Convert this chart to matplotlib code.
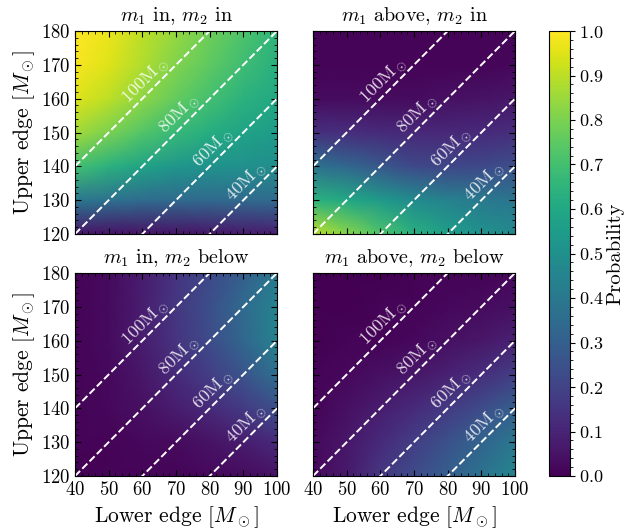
import numpy as np
import matplotlib
matplotlib.use("Agg")
import matplotlib.pyplot as plt
from matplotlib.ticker import AutoMinorLocator, MultipleLocator

plt.rcParams.update({
    "font.family": "serif",
    "font.serif": ["cmr10", "DejaVu Serif"],
    "mathtext.fontset": "cm",
    "axes.formatter.use_mathtext": True,
    "axes.unicode_minus": False,
})

# Grid of gap edges (solar masses)
lower_edge = [40, 50, 60, 70, 80, 90, 100]
upper_edge = [120, 130, 140, 150, 160, 170, 180]

# Probabilities, rows follow upper_edge (120 -> 180), columns follow lower_edge
p_in_in = [
    [0.06, 0.05, 0.05, 0.05, 0.06, 0.07, 0.08],
    [0.40, 0.37, 0.35, 0.34, 0.34, 0.34, 0.34],
    [0.70, 0.64, 0.58, 0.53, 0.51, 0.50, 0.49],
    [0.86, 0.80, 0.73, 0.67, 0.62, 0.58, 0.55],
    [0.95, 0.90, 0.83, 0.76, 0.70, 0.64, 0.60],
    [0.99, 0.95, 0.88, 0.81, 0.75, 0.69, 0.63],
    [1.00, 0.97, 0.90, 0.84, 0.78, 0.72, 0.65],
]
p_above_in = [
    [0.90, 0.82, 0.72, 0.63, 0.56, 0.51, 0.47],
    [0.64, 0.60, 0.54, 0.48, 0.44, 0.41, 0.39],
    [0.38, 0.33, 0.27, 0.22, 0.21, 0.22, 0.24],
    [0.14, 0.13, 0.12, 0.11, 0.11, 0.12, 0.13],
    [0.03, 0.03, 0.03, 0.03, 0.04, 0.05, 0.06],
    [0.01, 0.01, 0.01, 0.01, 0.01, 0.01, 0.02],
    [0.01, 0.01, 0.01, 0.01, 0.01, 0.01, 0.01],
]
p_in_below = [
    [0.00, 0.01, 0.01, 0.01, 0.02, 0.03, 0.05],
    [0.01, 0.01, 0.02, 0.03, 0.05, 0.08, 0.12],
    [0.01, 0.02, 0.04, 0.08, 0.12, 0.17, 0.24],
    [0.01, 0.02, 0.06, 0.12, 0.18, 0.26, 0.36],
    [0.01, 0.03, 0.08, 0.15, 0.23, 0.33, 0.44],
    [0.01, 0.03, 0.08, 0.16, 0.24, 0.34, 0.45],
    [0.01, 0.03, 0.08, 0.15, 0.22, 0.30, 0.40],
]
p_above_below = [
    [0.02, 0.07, 0.16, 0.23, 0.30, 0.38, 0.46],
    [0.02, 0.06, 0.12, 0.18, 0.25, 0.32, 0.40],
    [0.01, 0.04, 0.08, 0.12, 0.17, 0.23, 0.30],
    [0.01, 0.02, 0.04, 0.06, 0.09, 0.13, 0.18],
    [0.00, 0.01, 0.01, 0.02, 0.04, 0.06, 0.09],
    [0.00, 0.00, 0.01, 0.01, 0.02, 0.03, 0.04],
    [0.00, 0.00, 0.00, 0.01, 0.01, 0.01, 0.02],
]

titles = [r"$m_1$ in, $m_2$ in", r"$m_1$ above, $m_2$ in",
          r"$m_1$ in, $m_2$ below", r"$m_1$ above, $m_2$ below"]
panels = [p_in_in, p_above_in, p_in_below, p_above_below]

# Gap widths drawn as constant-width diagonals, with label anchor positions
gap_widths = [100, 80, 60, 40]
label_x = [63, 73, 83, 93]

W, H = 627, 529
fig = plt.figure(figsize=(W / 100, H / 100), dpi=100)

lefts = [75, 313]
tops = [31, 273]
size_w, size_h = 202, 203

X, Y = np.meshgrid(lower_edge, upper_edge)
for i, (data, title) in enumerate(zip(panels, titles)):
    r, c = divmod(i, 2)
    ax = fig.add_axes([lefts[c] / W, 1 - (tops[r] + size_h) / H, size_w / W, size_h / H])
    mesh = ax.pcolormesh(X, Y, np.array(data), shading="gouraud",
                         cmap="viridis", vmin=0, vmax=1)
    xs = np.array([lower_edge[0], lower_edge[-1]])
    for w, lx in zip(gap_widths, label_x):
        ax.plot(xs, xs + w, ls="--", color="white", lw=1.4)
        ax.text(lx, lx + w + 0.4, rf"${w}\mathrm{{M}}_\odot$", rotation=45,
                rotation_mode="anchor", ha="center", va="bottom",
                color="white", alpha=0.85, fontsize=13)
    ax.set_xlim(lower_edge[0], lower_edge[-1])
    ax.set_ylim(upper_edge[0], upper_edge[-1])
    ax.xaxis.set_major_locator(MultipleLocator(10))
    ax.yaxis.set_major_locator(MultipleLocator(10))
    ax.xaxis.set_minor_locator(AutoMinorLocator())
    ax.yaxis.set_minor_locator(AutoMinorLocator())
    ax.tick_params(which="both", direction="in", top=True, right=True, labelsize=13.5)
    ax.tick_params(which="major", length=4)
    ax.tick_params(which="minor", length=2)
    ax.set_title(title, fontsize=14.5, pad=7)
    if c == 0:
        ax.set_ylabel(r"Upper edge [$M_\odot$]", fontsize=15.5, labelpad=3)
    else:
        ax.set_yticklabels([])
    if r == 1:
        ax.set_xlabel(r"Lower edge [$M_\odot$]", fontsize=15.5)
    else:
        ax.set_xticklabels([])

cax = fig.add_axes([549 / W, 1 - 476 / H, 21 / W, (476 - 31) / H])
cb = fig.colorbar(mesh, cax=cax)
cb.set_label("Probability", fontsize=15, labelpad=2)
cb.set_ticks(np.arange(0, 1.01, 0.1))
cb.ax.yaxis.set_minor_locator(AutoMinorLocator())
cb.ax.tick_params(labelsize=13, pad=3)

fig.savefig("out.png", dpi=100)
